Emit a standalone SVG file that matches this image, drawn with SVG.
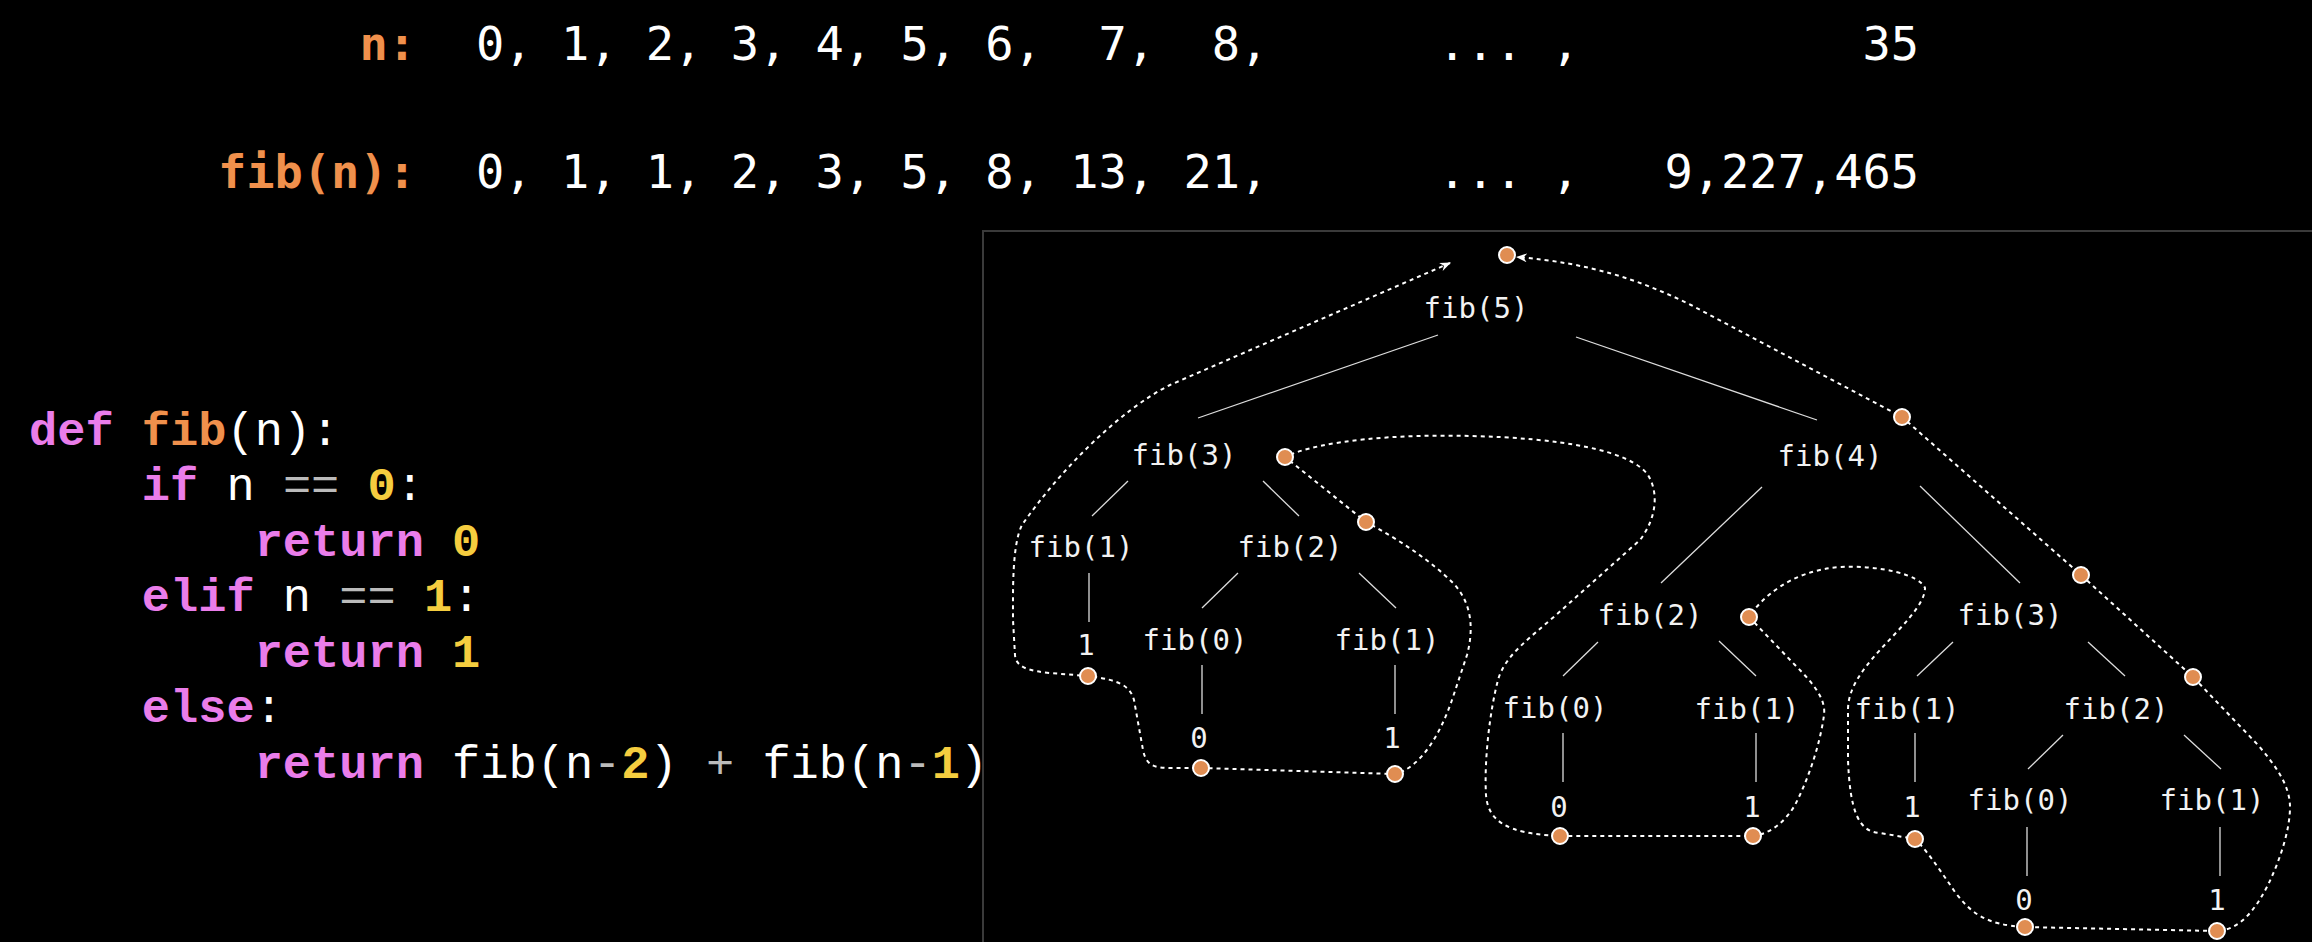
<svg xmlns="http://www.w3.org/2000/svg" width="2312" height="942" viewBox="0 0 2312 942">
<style>
.top{font-family:"DejaVu Sans Mono","Liberation Mono",monospace;font-size:47px;fill:#ffffff;}
.lbl{font-family:"DejaVu Sans Mono","Liberation Mono",monospace;font-size:47px;fill:#F0904C;font-weight:bold;text-anchor:end;}
.code{font-family:"Liberation Mono","DejaVu Sans Mono",monospace;font-size:47px;fill:#ffffff;}
.kw{fill:#EA7DEA;font-weight:bold;}
.fn{fill:#F0904C;font-weight:bold;}
.num{fill:#F5CD3F;font-weight:bold;}
.op{fill:#bbbbbb;}
.node{font-family:"DejaVu Sans Mono","Liberation Mono",monospace;font-size:29px;fill:#f2f2f2;text-anchor:middle;}
.edge{stroke:#dddddd;stroke-width:1.3;fill:none;}
.trace{stroke:#ffffff;stroke-width:2;stroke-dasharray:4 4;fill:none;}
.dot{fill:#E08D52;stroke:#ffffff;stroke-width:2;}
</style>
<defs>
<marker id="arr" viewBox="0 0 10 10" refX="9" refY="5" markerWidth="11" markerHeight="11" markerUnits="userSpaceOnUse" orient="auto-start-reverse">
<path d="M0,1 L10,5 L0,9 L3,5 z" fill="#ffffff"/>
</marker>
</defs>
<rect width="2312" height="942" fill="#000000"/>

<g id="header">
<text class="lbl" x="416" y="60">n:</text>
<text class="top" x="476" y="60" xml:space="preserve">0, 1, 2, 3, 4, 5, 6,  7,  8,      ... ,          35</text>
<text class="lbl" x="416" y="188">fib(n):</text>
<text class="top" x="476" y="188" xml:space="preserve">0, 1, 1, 2, 3, 5, 8, 13, 21,      ... ,   9,227,465</text>
</g>

<g id="code">
<text class="code" x="29" y="445" xml:space="preserve"><tspan class="kw">def</tspan> <tspan class="fn">fib</tspan>(n):</text>
<text class="code" x="29" y="500" xml:space="preserve">    <tspan class="kw">if</tspan> n <tspan class="op">==</tspan> <tspan class="num">0</tspan>:</text>
<text class="code" x="29" y="556" xml:space="preserve">        <tspan class="kw">return</tspan> <tspan class="num">0</tspan></text>
<text class="code" x="29" y="611" xml:space="preserve">    <tspan class="kw">elif</tspan> n <tspan class="op">==</tspan> <tspan class="num">1</tspan>:</text>
<text class="code" x="29" y="667" xml:space="preserve">        <tspan class="kw">return</tspan> <tspan class="num">1</tspan></text>
<text class="code" x="29" y="722" xml:space="preserve">    <tspan class="kw">else</tspan>:</text>
<text class="code" x="29" y="778" xml:space="preserve">        <tspan class="kw">return</tspan> fib(n<tspan class="op">-</tspan><tspan class="num">2</tspan>) <tspan class="op">+</tspan> fib(n<tspan class="op">-</tspan><tspan class="num">1</tspan>)</text>
</g>

<rect id="panel" x="983" y="231" width="1400" height="800" fill="none" stroke="#3a3a3a" stroke-width="2"/>

<g id="connectors">
<line class="edge" x1="1438" y1="335" x2="1198" y2="418"/>
<line class="edge" x1="1576" y1="337" x2="1817" y2="420"/>
<line class="edge" x1="1128" y1="481" x2="1092" y2="516"/>
<line class="edge" x1="1263" y1="481" x2="1299" y2="516"/>
<line class="edge" x1="1089" y1="573" x2="1089" y2="622"/>
<line class="edge" x1="1238" y1="573" x2="1202" y2="608"/>
<line class="edge" x1="1359" y1="573" x2="1396" y2="608"/>
<line class="edge" x1="1202" y1="665" x2="1202" y2="714"/>
<line class="edge" x1="1395" y1="665" x2="1395" y2="714"/>
<line class="edge" x1="1762" y1="487" x2="1661" y2="583"/>
<line class="edge" x1="1920" y1="486" x2="2020" y2="583"/>
<line class="edge" x1="1598" y1="642" x2="1563" y2="676"/>
<line class="edge" x1="1719" y1="641" x2="1756" y2="676"/>
<line class="edge" x1="1563" y1="733" x2="1563" y2="782"/>
<line class="edge" x1="1756" y1="733" x2="1756" y2="782"/>
<line class="edge" x1="1953" y1="642" x2="1917" y2="676"/>
<line class="edge" x1="2088" y1="642" x2="2125" y2="676"/>
<line class="edge" x1="1915" y1="733" x2="1915" y2="782"/>
<line class="edge" x1="2063" y1="735" x2="2028" y2="769"/>
<line class="edge" x1="2184" y1="735" x2="2221" y2="769"/>
<line class="edge" x1="2027" y1="827" x2="2027" y2="876"/>
<line class="edge" x1="2220" y1="827" x2="2220" y2="876"/>
<path id="trace" class="trace" marker-start="url(#arr)" marker-end="url(#arr)" d="M1450,263 L1170,385 C1120,410 1060,470 1022,525 C1012,545 1013,590 1013,620 L1015,655 C1016,668 1030,671 1050,673 L1088,676 C1120,680 1130,686 1134,700 L1143,750 C1146,764 1152,768 1170,768 L1201,768 L1395,774 C1420,768 1440,735 1452,700 L1467,655 C1475,625 1470,600 1452,582 C1432,562 1400,540 1366,522 L1285,457 C1320,440 1400,434 1470,436 C1560,438 1630,450 1648,475 C1660,495 1655,520 1640,540 L1556,615 C1530,638 1505,655 1498,680 C1490,710 1484,760 1486,795 C1488,820 1505,834 1560,836 L1753,836 C1770,834 1785,822 1795,805 C1808,780 1820,745 1824,715 C1826,700 1815,685 1795,665 L1749,617 C1760,600 1790,570 1841,567 C1880,565 1920,575 1925,588 C1925,605 1900,628 1880,650 C1860,672 1848,690 1848,710 L1848,760 C1850,810 1858,832 1880,833 L1915,839 C1925,848 1940,870 1955,892 C1970,912 1985,925 2025,927 L2217,931 C2240,930 2255,910 2268,885 C2280,860 2290,830 2290,807 C2290,785 2275,765 2258,745 L2193,677 L2081,575 L1902,417 L1691,305 C1640,280 1590,263 1517,257"/>
</g>

<g id="n-fib5"><text class="node" x="1476" y="318">fib(5)</text></g>
<g id="n-fib3a"><text class="node" x="1184" y="465">fib(3)</text></g>
<g id="n-fib4"><text class="node" x="1830" y="466">fib(4)</text></g>
<g id="n-fib1a"><text class="node" x="1081" y="557">fib(1)</text><text class="node" x="1086" y="655">1</text></g>
<g id="n-fib2a"><text class="node" x="1290" y="557">fib(2)</text></g>
<g id="n-fib0a"><text class="node" x="1195" y="650">fib(0)</text><text class="node" x="1199" y="748">0</text></g>
<g id="n-fib1b"><text class="node" x="1387" y="650">fib(1)</text><text class="node" x="1392" y="748">1</text></g>
<g id="n-fib2b"><text class="node" x="1650" y="625">fib(2)</text></g>
<g id="n-fib3b"><text class="node" x="2010" y="625">fib(3)</text></g>
<g id="n-fib0b"><text class="node" x="1555" y="718">fib(0)</text><text class="node" x="1559" y="817">0</text></g>
<g id="n-fib1c"><text class="node" x="1747" y="719">fib(1)</text><text class="node" x="1752" y="817">1</text></g>
<g id="n-fib1d"><text class="node" x="1907" y="719">fib(1)</text><text class="node" x="1912" y="817">1</text></g>
<g id="n-fib2c"><text class="node" x="2116" y="719">fib(2)</text></g>
<g id="n-fib0c"><text class="node" x="2020" y="810">fib(0)</text><text class="node" x="2024" y="910">0</text></g>
<g id="n-fib1e"><text class="node" x="2212" y="810">fib(1)</text><text class="node" x="2217" y="910">1</text></g>

<g id="dots">
<circle class="dot" cx="1507" cy="255" r="8"/>
<circle class="dot" cx="1285" cy="457" r="8"/>
<circle class="dot" cx="1366" cy="522" r="8"/>
<circle class="dot" cx="1088" cy="676" r="8"/>
<circle class="dot" cx="1201" cy="768" r="8"/>
<circle class="dot" cx="1395" cy="774" r="8"/>
<circle class="dot" cx="1902" cy="417" r="8"/>
<circle class="dot" cx="2081" cy="575" r="8"/>
<circle class="dot" cx="1749" cy="617" r="8"/>
<circle class="dot" cx="1560" cy="836" r="8"/>
<circle class="dot" cx="1753" cy="836" r="8"/>
<circle class="dot" cx="1915" cy="839" r="8"/>
<circle class="dot" cx="2193" cy="677" r="8"/>
<circle class="dot" cx="2025" cy="927" r="8"/>
<circle class="dot" cx="2217" cy="931" r="8"/>
</g>
</svg>
